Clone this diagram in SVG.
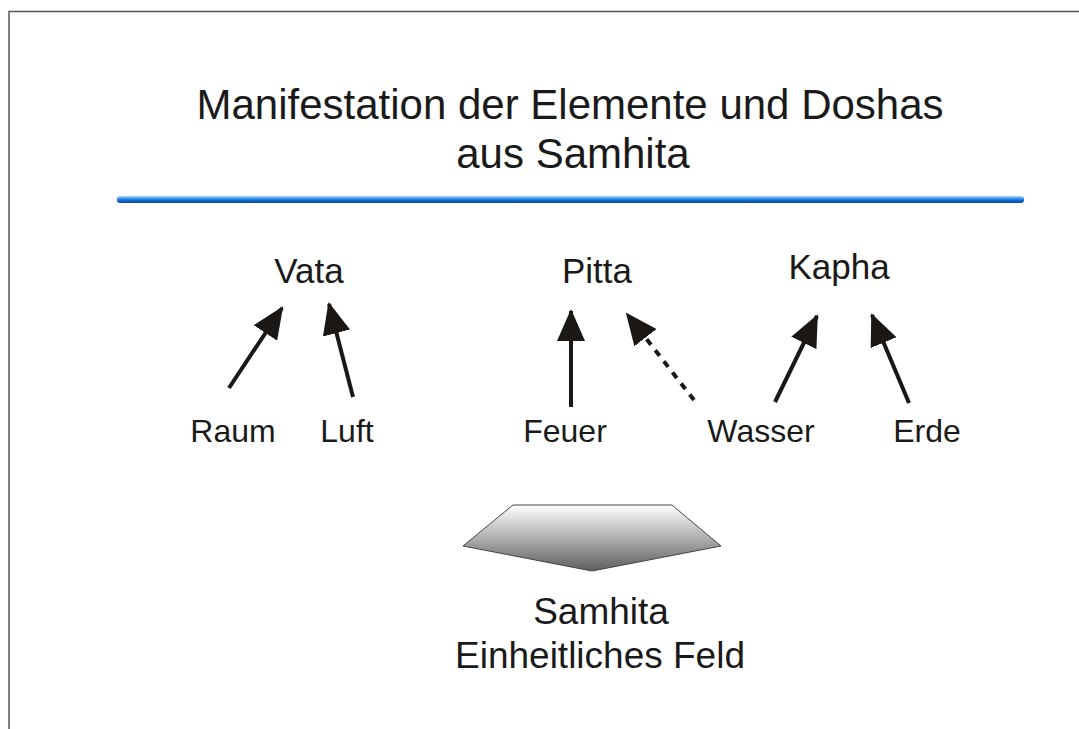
<svg xmlns="http://www.w3.org/2000/svg" width="1079" height="729" viewBox="0 0 1079 729">
<style>
text{font-family:"Liberation Sans",Arial,sans-serif;fill:#1a1a1a;text-anchor:middle}
.t{font-size:42px}
.d{font-size:35px}
.e{font-size:32px}
.s{font-size:37px}
.c{stroke:#1a1714;stroke-width:4;fill:none}
</style>
<defs>
<marker id="ah" markerUnits="userSpaceOnUse" markerWidth="32" markerHeight="28" viewBox="0 0 32 28" refX="30" refY="14" orient="auto">
<path d="M0,0 L32,14 L0,28 Z" fill="#1a1714"/>
</marker>
<linearGradient id="g" x1="0" y1="0" x2="0" y2="1">
<stop offset="0" stop-color="#ffffff"/>
<stop offset="1" stop-color="#5e5e5e"/>
</linearGradient>
<linearGradient id="bl" x1="0" y1="0" x2="0" y2="1">
<stop offset="0" stop-color="#b8dcfa"/>
<stop offset="0.35" stop-color="#3c95ec"/>
<stop offset="0.6" stop-color="#0a6fe0"/>
<stop offset="1" stop-color="#17457a"/>
</linearGradient>
</defs>
<rect width="1079" height="729" fill="#fff"/>
<path d="M9,729 V11.5 H1079" fill="none" stroke="#555" stroke-width="1.5"/>
<g id="title">
<text class="t" x="570" y="119">Manifestation der Elemente und Doshas</text>
<text class="t" x="573" y="168">aus Samhita</text>
<rect x="117" y="196" width="907" height="7" rx="3" fill="url(#bl)"/>
</g>
<g id="vata"><text class="d" x="309" y="283">Vata</text></g>
<g id="pitta"><text class="d" x="597" y="283">Pitta</text></g>
<g id="kapha"><text class="d" x="839" y="279">Kapha</text></g>
<g id="raum"><text class="e" x="233" y="442">Raum</text></g>
<g id="luft"><text class="e" x="347" y="442">Luft</text></g>
<g id="feuer"><text class="e" x="565" y="442">Feuer</text></g>
<g id="wasser"><text class="e" x="761" y="442">Wasser</text></g>
<g id="erde"><text class="e" x="927" y="442">Erde</text></g>
<g id="samhita">
<polygon points="513,505 672,505 721,546 592,571 463,546" fill="url(#g)" stroke="#444" stroke-width="1"/>
<text class="s" x="601" y="624">Samhita</text>
<text class="s" x="600" y="668">Einheitliches Feld</text>
</g>
<g id="connectors">
<line class="c" x1="229" y1="388" x2="282" y2="308" marker-end="url(#ah)"/>
<line class="c" x1="353" y1="397" x2="329" y2="304" marker-end="url(#ah)"/>
<line class="c" x1="571" y1="407" x2="571" y2="311" marker-end="url(#ah)"/>
<line class="c" x1="694" y1="400" x2="627" y2="314" stroke-dasharray="7,7" marker-end="url(#ah)"/>
<line class="c" x1="775" y1="402" x2="817" y2="316" marker-end="url(#ah)"/>
<line class="c" x1="909" y1="403" x2="872" y2="315" marker-end="url(#ah)"/>
</g>
</svg>
